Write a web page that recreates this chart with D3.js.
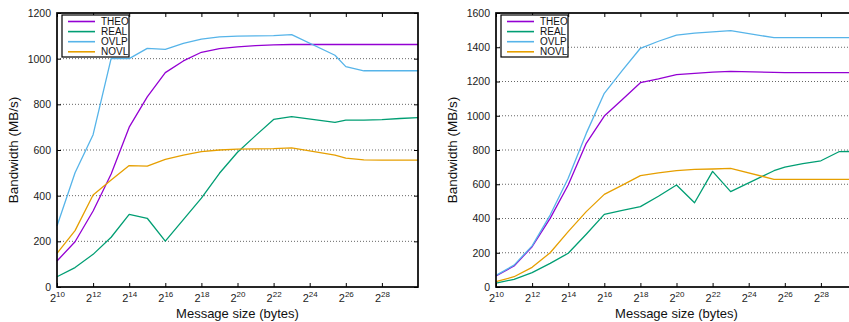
<!DOCTYPE html>
<html>
<head>
<meta charset="utf-8">
<script src="https://cdn.jsdelivr.net/npm/d3@7"></script>
<style>
  body { margin: 0; background: #fff; }
  text { font-family: "Liberation Sans", Arial, sans-serif; }
</style>
</head>
<body>
<svg id="chart" width="849" height="322"></svg>
<script>
// message sizes, as log2 exponents
const sizeExps = [10, 11, 12, 13, 14, 15, 16, 17, 18, 19, 20, 21, 22, 23, 25.4, 26, 27, 28, 29, 30];
const seriesNames = ['THEO', 'REAL', 'OVLP', 'NOVL'];
const xTickExps = [10, 12, 14, 16, 18, 20, 22, 24, 26, 28];
const leftYTicks = [0, 200, 400, 600, 800, 1000, 1200];
const rightYTicks = [0, 200, 400, 600, 800, 1000, 1200, 1400, 1600];

// left panel (MB/s)
const leftTheo = [114, 198, 333, 495, 700, 833, 939, 990, 1028, 1044, 1052, 1057, 1060, 1062, 1062, 1062, 1062, 1062, 1062, 1062];
const leftReal = [45, 85, 143, 218, 318, 301, 201, 295, 389, 498, 590, 663, 734, 746, 721, 731, 731, 733, 738, 742];
const leftOvlp = [267, 500, 667, 1001, 1000, 1045, 1041, 1067, 1086, 1095, 1099, 1100, 1101, 1105, 1015, 965, 947, 947, 947, 947];
const leftNovl = [147, 247, 403, 469, 532, 529, 559, 578, 593, 600, 604, 605, 606, 609, 578, 564, 557, 556, 556, 556];

// right panel (MB/s)
const rightTheo = [64, 123, 235, 401, 596, 839, 998, 1095, 1193, 1215, 1240, 1248, 1255, 1259, 1253, 1252, 1252, 1252, 1252, 1252];
const rightReal = [22, 45, 84, 138, 197, 308, 424, 447, 469, 530, 596, 492, 675, 557, 679, 700, 720, 737, 790, 792];
const rightOvlp = [68, 128, 240, 420, 635, 897, 1131, 1265, 1394, 1435, 1471, 1483, 1490, 1497, 1456, 1456, 1456, 1456, 1456, 1456];
const rightNovl = [31, 60, 115, 200, 323, 440, 541, 595, 650, 667, 679, 687, 689, 693, 629, 629, 629, 629, 629, 629];

const colors = ['#9400d3', '#009e73', '#56b4e9', '#e69f00'];

const svg = d3.select('#chart');

function drawPanel(cfg) {
    const top = 13, bottom = 287;
    const x = d3.scaleLog().base(2).domain([2 ** 10, 2 ** 30]).range([cfg.left, cfg.right]);
    const y = d3.scaleLinear().domain([0, cfg.yTicks[cfg.yTicks.length - 1]]).range([bottom, top]);
    const g = svg.append('g');

    // dotted grid
    g.append('g').selectAll('line')
        .data(cfg.yTicks.slice(1, -1))
        .join('line')
        .attr('x1', cfg.left).attr('x2', cfg.right)
        .attr('y1', d => y(d)).attr('y2', d => y(d))
        .attr('stroke', '#666')
        .attr('stroke-width', 1)
        .attr('stroke-dasharray', '1,2');

    // series
    const line = d3.line()
        .x((d, i) => x(2 ** sizeExps[i]))
        .y(d => y(d));

    g.append('g').selectAll('path')
        .data(cfg.series)
        .join('path')
        .attr('d', d => line(d))
        .attr('fill', 'none')
        .attr('stroke', (d, i) => colors[i])
        .attr('stroke-width', 1.3)
        .attr('stroke-linejoin', 'round');

    // axes (inward ticks, mirrored)
    const xTicks = xTickExps.map(e => 2 ** e);
    const axB = g.append('g').attr('transform', 'translate(0,' + bottom + ')')
        .call(d3.axisBottom(x).tickValues(xTicks).tickSize(-4).tickSizeOuter(0).tickPadding(7).tickFormat(''));
    g.append('g').attr('transform', 'translate(0,' + top + ')')
        .call(d3.axisTop(x).tickValues(xTicks).tickSize(-4).tickSizeOuter(0).tickFormat(''));
    g.append('g').attr('transform', 'translate(' + cfg.left + ',0)')
        .call(d3.axisLeft(y).tickValues(cfg.yTicks).tickSize(-4).tickSizeOuter(0).tickPadding(6).tickFormat(d3.format('d')));
    g.append('g').attr('transform', 'translate(' + cfg.right + ',0)')
        .call(d3.axisRight(y).tickValues(cfg.yTicks).tickSize(-4).tickSizeOuter(0).tickFormat(''));

    g.selectAll('.domain').remove();
    g.selectAll('.tick line').attr('stroke', '#000').attr('stroke-width', 1);
    g.selectAll('.tick text').attr('font-size', 10.5).attr('fill', '#222')
        .attr('font-family', '"Liberation Sans", Arial, sans-serif');

    // 2^n labels with superscripts
    axB.selectAll('.tick text').each(function (d) {
        const t = d3.select(this).text(null).attr('font-size', 11);
        t.append('tspan').text('2');
        t.append('tspan').attr('dy', -4.5).attr('font-size', 8).text(Math.round(Math.log2(d)));
    });

    // frame
    g.append('rect')
        .attr('x', cfg.left).attr('y', top)
        .attr('width', cfg.right - cfg.left).attr('height', bottom - top)
        .attr('fill', 'none').attr('stroke', '#000').attr('stroke-width', 1.7);

    // axis titles
    g.append('text')
        .attr('transform', 'translate(' + (cfg.left - 39) + ',' + ((top + bottom) / 2) + ') rotate(-90)')
        .attr('text-anchor', 'middle')
        .attr('font-size', 13.5).attr('fill', '#111')
        .text('Bandwidth (MB/s)');
    g.append('text')
        .attr('x', (cfg.left + cfg.right) / 2).attr('y', 318)
        .attr('text-anchor', 'middle')
        .attr('font-size', 13).attr('fill', '#111')
        .text('Message size (bytes)');

    // legend
    const lg = g.append('g').attr('transform', 'translate(' + (cfg.left + 5) + ',15)');
    lg.append('rect').attr('width', 67).attr('height', 42)
        .attr('fill', '#fff').attr('stroke', '#000').attr('stroke-width', 1.2);
    const rows = lg.selectAll('g.row').data(seriesNames).join('g')
        .attr('class', 'row')
        .attr('transform', (d, i) => 'translate(0,' + (6.5 + i * 10.1) + ')');
    rows.append('line')
        .attr('x1', 6).attr('x2', 33)
        .attr('stroke', (d, i) => colors[i]).attr('stroke-width', 1.6);
    rows.append('text')
        .attr('x', 39).attr('dy', '0.35em')
        .attr('font-size', 10).attr('fill', '#111')
        .text(d => d);
}

drawPanel({ left: 57, right: 418, yTicks: leftYTicks, series: [leftTheo, leftReal, leftOvlp, leftNovl] });
drawPanel({ left: 496, right: 857, yTicks: rightYTicks, series: [rightTheo, rightReal, rightOvlp, rightNovl] });
</script>
</body>
</html>
